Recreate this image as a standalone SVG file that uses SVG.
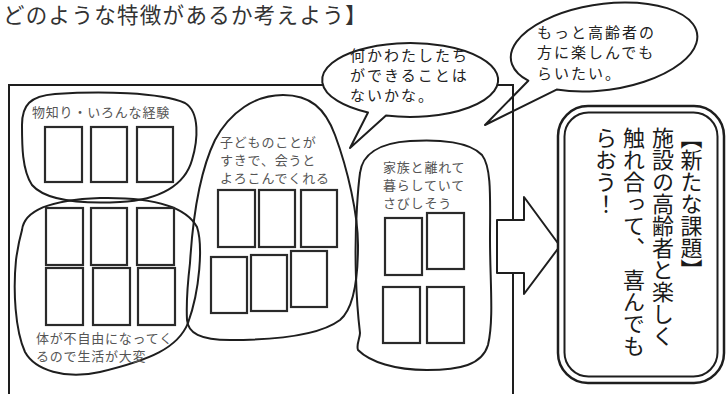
<svg xmlns="http://www.w3.org/2000/svg" width="727" height="394" viewBox="0 0 727 394">
<style>
  .ol { fill: #fff; stroke: #1e1e1e; stroke-width: 2; stroke-linejoin: round; }
  .blob { fill: none; stroke: #1e1e1e; stroke-width: 2; }
  .card { fill: #fff; stroke: #2a2a2a; stroke-width: 2.2; }
  .lbl { font-family: "Noto Sans CJK JP", "Noto Sans", sans-serif; font-size: 13px; fill: #555; letter-spacing: 0.8px; }
  .say { font-family: "Noto Sans CJK JP", "Noto Sans", sans-serif; font-size: 15px; fill: #222; letter-spacing: 2px; }
  .vt { font-family: "Noto Sans CJK JP", "Noto Sans", sans-serif; font-size: 22px; fill: #1a1a1a; writing-mode: vertical-rl; }
</style>
<rect width="727" height="394" fill="#fff"/>

<text x="3" y="23" font-family="'Noto Sans CJK JP', 'Noto Sans', sans-serif" font-size="21.5" letter-spacing="1.3" fill="#333">どのような特徴があるか考えよう】</text>

<g id="bubble2">
  <path class="ol" d="M556.6,89.6 A94,43 -8 1 0 528.3,80.7 L485,125 Z"/>
  <text class="say" x="537" y="38">もっと高齢者の</text>
  <text class="say" x="537" y="58">方に楽しんでも</text>
  <text class="say" x="537" y="78.5">らいたい。</text>
</g>

<g id="frame">
  <path d="M9,394 V85 H513 V394" fill="none" stroke="#1e1e1e" stroke-width="2"/>
</g>

<g id="bubble1">
  <path class="ol" d="M368,112.5 A88,37 0 1 1 386,115.6 L350,148 Z"/>
  <text class="say" x="350" y="60.7">何かわたしたち</text>
  <text class="say" x="350" y="80.7">ができることは</text>
  <text class="say" x="350" y="100.7">ないかな。</text>
</g>

<g id="clusterA">
  <path class="blob" d="M22,125 C22,105 30,96 55,94 C100,91 160,92 185,103 C200,112 198,140 192,160 C185,185 160,200 120,202 C80,204 45,200 32,185 C22,170 22,145 22,125 Z"/>
  <text class="lbl" x="32" y="117">物知り・いろんな経験</text>
  <rect class="card" x="45" y="127" width="37" height="55"/>
  <rect class="card" x="91" y="127" width="36" height="55"/>
  <rect class="card" x="137" y="127" width="36" height="55"/>
</g>

<g id="clusterB">
  <path class="blob" d="M22,230 C24,212 45,200 100,198 C150,197 185,205 197,227 C203,245 200,290 188,323 C178,348 150,360 100,372 C65,380 35,370 25,352 C15,330 13,290 16,260 C18,245 20,237 22,230 Z"/>
  <rect class="card" x="46" y="208" width="37" height="57"/>
  <rect class="card" x="91" y="208" width="36" height="57"/>
  <rect class="card" x="137" y="208" width="37" height="57"/>
  <rect class="card" x="46" y="268" width="37" height="57"/>
  <rect class="card" x="93" y="268" width="37" height="57"/>
  <rect class="card" x="138" y="268" width="37" height="57"/>
  <text class="lbl" x="36" y="343">体が不自由になってく</text>
  <text class="lbl" x="36" y="361">るので生活が大変</text>
</g>

<g id="clusterC">
  <path class="blob" d="M190,263 C192,230 198,175 215,140 C230,112 255,95 283,95 C310,95 325,108 335,135 C348,170 358,215 358,245 C358,285 352,310 340,320 C320,335 280,340 230,340 C200,340 188,333 187,320 C186,300 188,280 190,263 Z"/>
  <text class="lbl" x="220" y="147">子どものことが</text>
  <text class="lbl" x="220" y="165">すきで、会うと</text>
  <text class="lbl" x="220" y="183">よろこんでくれる</text>
  <rect class="card" x="218" y="190" width="37" height="57"/>
  <rect class="card" x="259" y="190" width="36" height="57"/>
  <rect class="card" x="301" y="190" width="36" height="57"/>
  <rect class="card" x="211" y="257" width="36" height="56"/>
  <rect class="card" x="251" y="255" width="36" height="56"/>
  <rect class="card" x="291" y="251" width="36" height="56"/>
</g>

<g id="clusterD">
  <path class="blob" d="M360,173 C362,155 378,143 410,141 C440,139 470,142 482,155 C492,168 490,200 490,240 C490,280 494,320 488,345 C482,365 460,370 427,370 C395,370 370,362 358,350 C356,345 360,338 360,333 C356,300 354,250 357,207 C358,190 359,180 360,173 Z"/>
  <text class="lbl" x="383" y="172">家族と離れて</text>
  <text class="lbl" x="383" y="190">暮らしていて</text>
  <text class="lbl" x="383" y="208">さびしそう</text>
  <rect class="card" x="385" y="218" width="37" height="57"/>
  <rect class="card" x="427" y="213" width="37" height="56"/>
  <rect class="card" x="383" y="287" width="37" height="56"/>
  <rect class="card" x="427" y="287" width="37" height="56"/>
</g>

<g id="connectors">
  <polygon class="ol" points="497,220 524,220 524,197 560,246 524,294 524,273 497,273"/>
</g>

<g id="newTask">
  <rect x="558" y="106" width="166" height="277" rx="30" fill="#fff" stroke="#1e1e1e" stroke-width="2.5"/>
  <rect x="564.5" y="112.5" width="153" height="264" rx="24" fill="none" stroke="#1e1e1e" stroke-width="2"/>
  <text class="vt" x="691.5" y="127">【新たな課題】</text>
  <text class="vt" x="663" y="127">施設の高齢者と楽しく</text>
  <text class="vt" x="634" y="127">触れ合って、</text>
  <text class="vt" x="634" y="269">喜んでも</text>
  <text class="vt" x="606" y="127">らおう！</text>
</g>
</svg>
